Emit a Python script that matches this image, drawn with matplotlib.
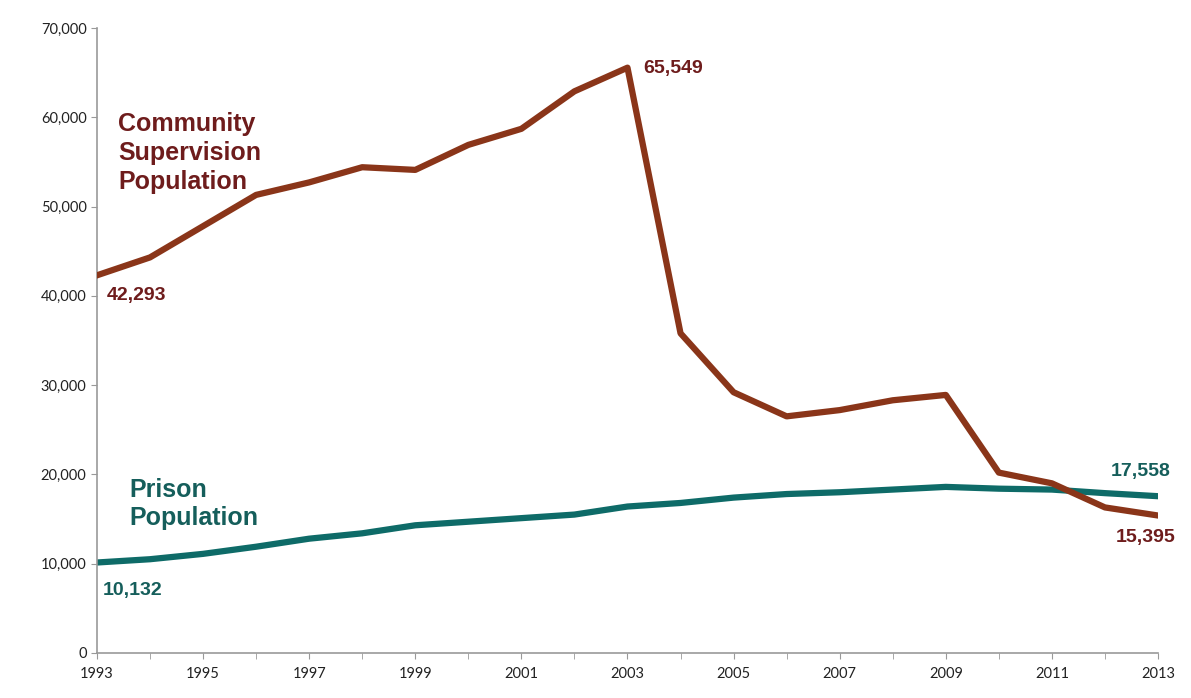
#!/usr/bin/env python3

import matplotlib.pyplot as plt
import numpy as np

years = np.arange(1993, 2014)
community = [42293, 44300, 47800, 51300, 52700, 54400, 54100, 56900, 58700, 62900,
             65549, 35800, 29200, 26500, 27200, 28300, 28900, 20200, 19000, 16300, 15395]
prison = [10132, 10500, 11100, 11900, 12800, 13400, 14300, 14700, 15100, 15500,
          16400, 16800, 17400, 17800, 18000, 18300, 18600, 18400, 18300, 17900, 17558]

line_comm = "#8a3519"
text_comm = "#6e1c1c"
line_pris = "#0e6b68"
text_pris = "#155e5b"

fig = plt.figure(figsize=(11.91, 6.98), dpi=100)
ax = fig.add_axes([0.0814, 0.0645, 0.8909, 0.8955])

ax.plot(years, community, color=line_comm, lw=4.5, zorder=3)
ax.plot(years, prison, color=line_pris, lw=4.5, zorder=2)

ax.set_xlim(1993, 2013)
ax.set_ylim(0, 70000)
ax.set_xticks(np.arange(1993, 2014, 2))
ax.set_xticks(years, minor=True)
ax.set_yticks(np.arange(0, 70001, 10000))
ax.set_yticklabels([f"{v:,}" for v in range(0, 70001, 10000)])

for s in ["top", "right"]:
    ax.spines[s].set_visible(False)
for s in ["left", "bottom"]:
    ax.spines[s].set_color("#999999")
    ax.spines[s].set_linewidth(1.2)
ax.tick_params(axis="both", which="both", color="#999999", length=4, labelsize=10.5,
               labelcolor="#222222")
ax.tick_params(axis="x", which="major", pad=6)
for lbl in ax.get_xticklabels() + ax.get_yticklabels():
    lbl.set_family("Lato")

bold = dict(family="Liberation Sans", fontweight="bold", ha="left", multialignment="left")
ax.text(1993.4, 56000, "Community\nSupervision\nPopulation", color=text_comm, fontsize=18,
        va="center", linespacing=1.25, **bold)
ax.text(1993.62, 16650, "Prison\nPopulation", color=text_pris, fontsize=18,
        va="center", linespacing=1.2, **bold)

ax.text(1993.18, 40000, f"{community[0]:,}", color=text_comm, fontsize=14, va="center", **bold)
ax.text(2003.3, 65400, f"{community[10]:,}", color=text_comm, fontsize=14, va="center", **bold)
ax.text(2012.2, 12900, f"{community[-1]:,}", color=text_comm, fontsize=14, va="center", **bold)
ax.text(1993.1, 7050, f"{prison[0]:,}", color=text_pris, fontsize=14, va="center", **bold)
ax.text(2012.1, 20300, f"{prison[-1]:,}", color=text_pris, fontsize=14, va="center", **bold)

fig.savefig("out.png", dpi=100)
